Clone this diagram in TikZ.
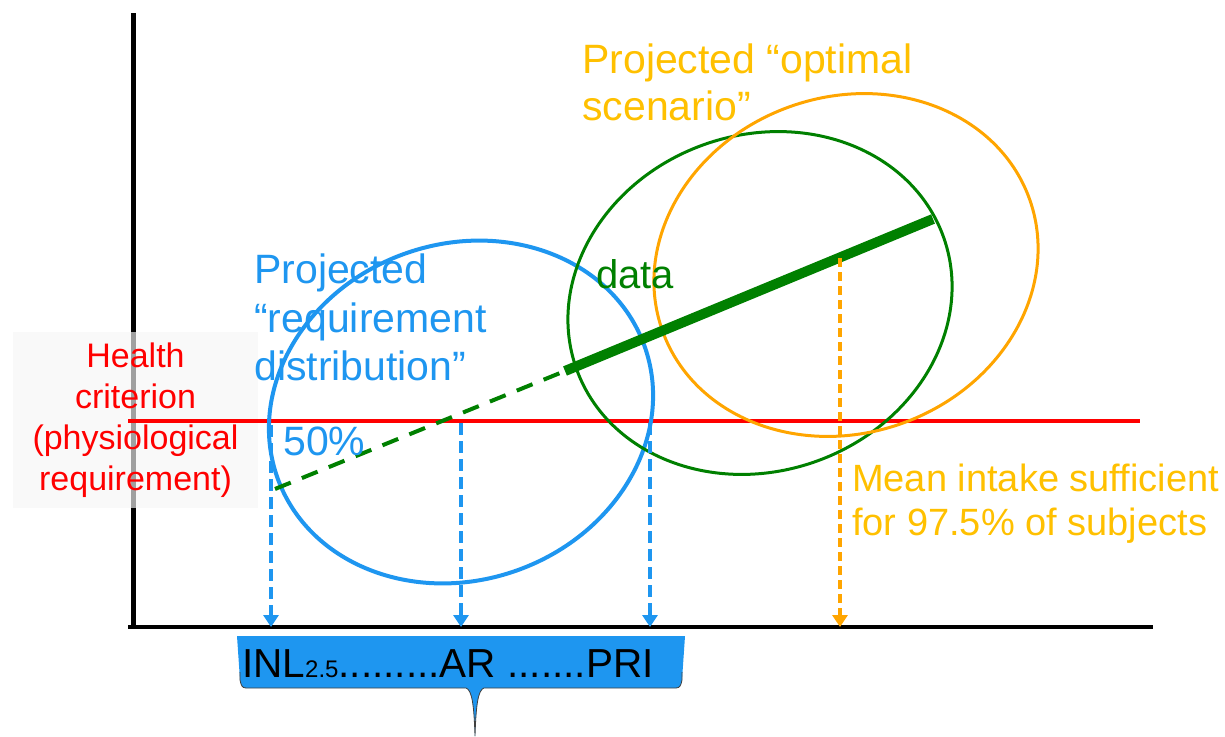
\documentclass[tikz,border=0pt]{standalone}
\usepackage{fontspec}
\setmainfont{Liberation Sans}
\usetikzlibrary{arrows.meta}

\definecolor{reqblue}{RGB}{30,150,240}
\definecolor{datagreen}{RGB}{0,128,0}
\definecolor{optorange}{RGB}{255,165,0}
\definecolor{optgold}{RGB}{255,192,0}
\definecolor{critred}{RGB}{255,0,0}
\definecolor{boxgray}{RGB}{246,246,246}

\begin{document}
\begin{tikzpicture}[x=1pt,y=-1pt,line join=round,
  drop/.style={line width=4.5pt,-{Triangle[length=12pt,width=15pt]}},
  lbl/.style={inner sep=0pt,align=left}]

% ===== parameters (1 unit = 1 pixel, y downwards) =====
\def\rx{195}   % half axis along the data line
\def\ry{168}   % half axis across it
\def\tilt{20}  % tilt of the three ellipses
\def\yred{421} % health criterion line
\def\yax{627}  % x axis

\useasboundingbox (0,0) rectangle (1225,736);

% ===== axes =====
\draw[line width=5pt] (133,13) -- (133,\yax);
\draw[line width=4pt] (128,\yax) -- (1153,\yax);

% ===== health criterion =====
\node[fill=boxgray,fill opacity=0.65,text opacity=1,text=critred,
  minimum width=245pt,minimum height=176pt,align=center,
  font=\fontsize{34}{41}\selectfont] (health) at (135.5,420)
  {Health\\criterion\\(physiological\\requirement)};
\draw[critred,line width=3.5pt] (128,\yred) -- (1140,\yred);

% ===== ellipses =====
\draw[reqblue,line width=4pt,rotate around={\tilt:(461,412)}]
  (461,412) ellipse [x radius=\rx,y radius=\ry];
\draw[datagreen,line width=3pt,rotate around={\tilt:(760,303)}]
  (760,303) ellipse [x radius=\rx,y radius=\ry];
\draw[optorange,line width=3pt,rotate around={\tilt:(846,265)}]
  (846,265) ellipse [x radius=\rx,y radius=\ry];

% ===== data line =====
\coordinate (dashstart) at (275,489);
\coordinate (datastart) at (565,371);
\coordinate (dataend) at (933,219);
\draw[datagreen,line width=4pt,dash pattern=on 17pt off 12pt] (dashstart) -- (datastart);
\draw[datagreen,line width=10pt] (datastart) -- (dataend);

% ===== drop lines to the x axis =====
\coordinate (inltop) at (271,425); \coordinate (inl) at (271,\yax);
\coordinate (artop)  at (461,423); \coordinate (ar)  at (461,\yax);
\coordinate (pritop) at (650,423); \coordinate (pri) at (650,\yax);
\coordinate (meantop) at (840,258); \coordinate (mean) at (840,\yax);
\draw[reqblue,drop,dash pattern=on 12pt off 6pt] (inltop) -- (inl);
\draw[reqblue,drop,dash pattern=on 12pt off 6pt] (artop) -- (ar);
\draw[reqblue,drop,dash pattern=on 12pt off 6pt] (pritop) -- (pri);
\draw[optorange,drop,dash pattern=on 9pt off 5pt] (meantop) -- (mean);

% ===== labels =====
\node[lbl,anchor=north west,text=optgold,font=\fontsize{41}{47}\selectfont] (optimal) at (582,44)
  {Projected “optimal\\scenario”};
\node[lbl,anchor=north west,text=reqblue,font=\fontsize{41}{48.5}\selectfont] (reqdist) at (254,254)
  {Projected\\“requirement\\distribution”};
\node[lbl,anchor=base west,text=reqblue,font=\fontsize{41}{48}\selectfont] (half) at (283,455) {50\%};
\node[lbl,anchor=base west,text=datagreen,font=\fontsize{40}{48}\selectfont] (data) at (596,288) {data};
\node[lbl,anchor=north west,text=optgold,font=\fontsize{38}{44}\selectfont] (meanlbl) at (852,464)
  {Mean intake sufficient\\for 97.5\% of subjects};

% ===== callout with the reference values =====
\fill[reqblue] (237,636) -- (685,636) -- (682,680) .. controls (681,685) and (680,688) .. (676,688)
  -- (484,688) .. controls (478,690) and (476,705) .. (475,736)
  .. controls (474,705) and (472,690) .. (466,688)
  -- (246,688) .. controls (242,688) and (241,685) .. (240,680) -- cycle;
\draw[black!75,line width=0.8pt] (682,672) -- (682,680) .. controls (681,685) and (680,688) .. (676,688)
  -- (484,688) .. controls (478,690) and (476,705) .. (475,736)
  .. controls (474,705) and (472,690) .. (466,688)
  -- (246,688) .. controls (242,688) and (241,685) .. (240,680) -- (240,672);
\node[lbl,anchor=base west,font=\fontsize{40.5}{48}\selectfont] (levels) at (242,677)
  {INL{\fontsize{24}{24}\selectfont 2.5}.........AR .......PRI};

\end{tikzpicture}
\end{document}
